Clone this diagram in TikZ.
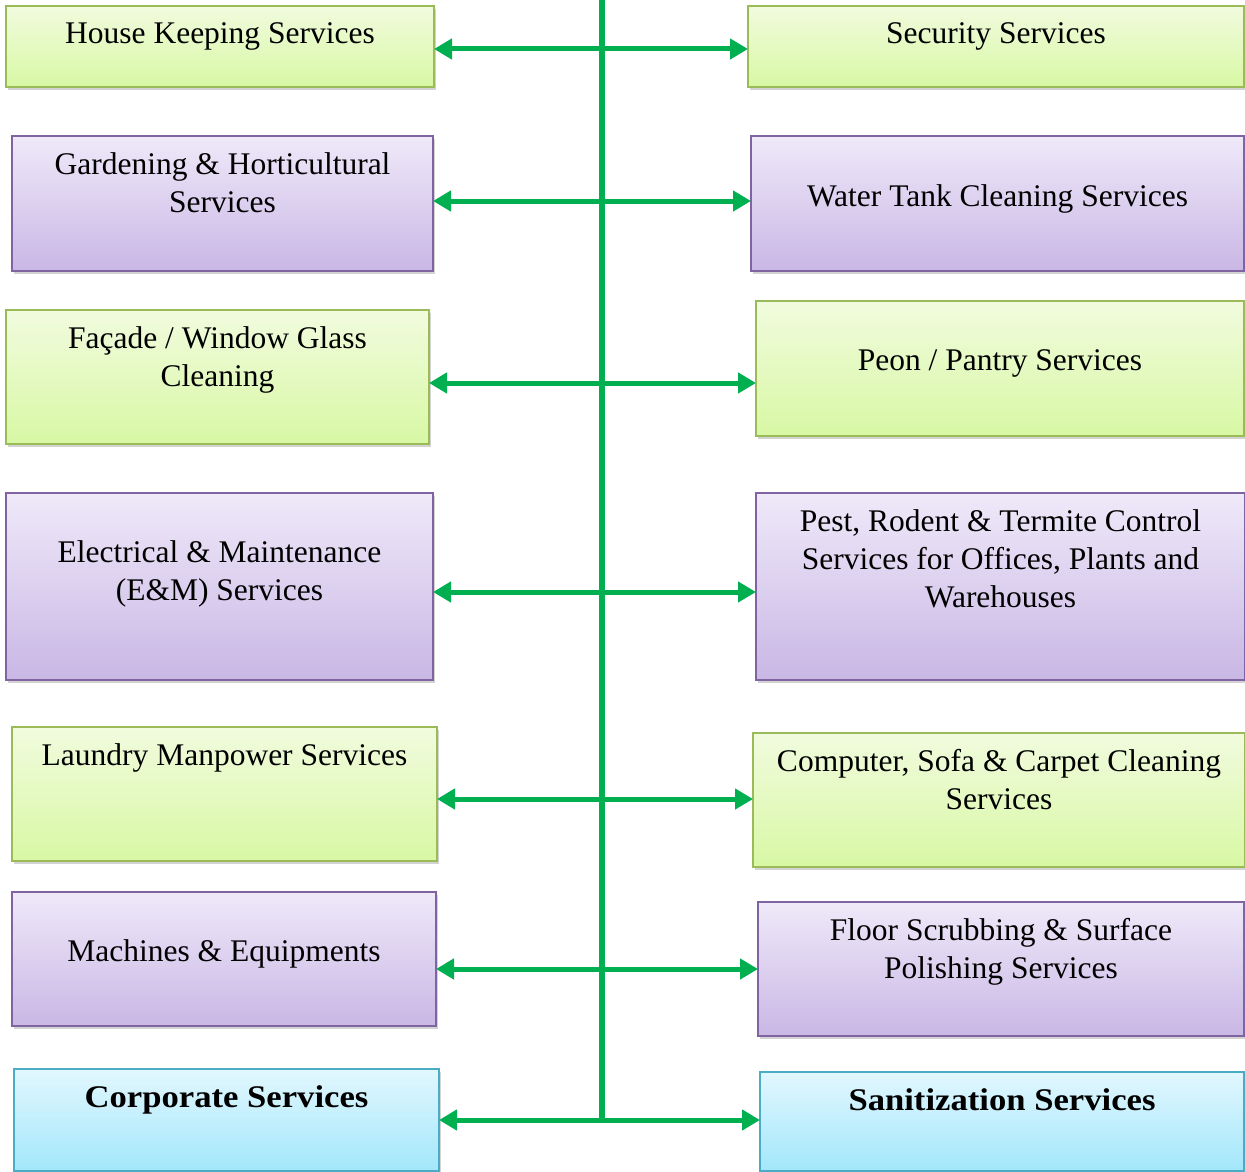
\documentclass[tikz,border=0pt]{standalone}
\usepackage{fontspec}
\setmainfont{Liberation Serif}
\newfontfamily\widebold[FakeStretch=1.1]{Liberation Serif Bold}
\usetikzlibrary{positioning,shadows,arrows.meta}

\definecolor{grnTop}{RGB}{241,251,222}
\definecolor{grnBot}{RGB}{216,248,164}
\definecolor{grnLine}{RGB}{155,187,89}
\definecolor{purTop}{RGB}{239,233,249}
\definecolor{purBot}{RGB}{201,183,229}
\definecolor{purLine}{RGB}{128,100,162}
\definecolor{bluTop}{RGB}{226,247,254}
\definecolor{bluBot}{RGB}{162,231,251}
\definecolor{bluLine}{RGB}{75,172,198}
\definecolor{arrowGreen}{RGB}{0,176,80}

\begin{document}
\begin{tikzpicture}[x=1pt, y=-1pt,
        box/.style = {rectangle, anchor=north west, line width=2pt, inner sep=0pt,
            drop shadow={shadow xshift=2pt, shadow yshift=-3pt, opacity=0.35}},
        grn/.style = {box, draw=grnLine, top color=grnTop, bottom color=grnBot},
        pur/.style = {box, draw=purLine, top color=purTop, bottom color=purBot},
        blu/.style = {box, draw=bluLine, top color=bluTop, bottom color=bluBot},
        txt/.style = {align=center, inner sep=0pt, font=\fontsize{31.5}{38}\selectfont},
        link/.style = {arrowGreen, line width=5pt, shorten <=-1pt, shorten >=-1pt,
            {Triangle[length=18pt,width=20pt]}-{Triangle[length=18pt,width=20pt]}},
        trunk/.style = {arrowGreen, line width=6pt}]

        \useasboundingbox (0,0) rectangle (1245,1172);

        % left column
        \node[grn, minimum width=428pt, minimum height=81pt]  (hk)      at (5,5)     {};
        \node[pur, minimum width=421pt, minimum height=135pt] (gard)    at (11,135)  {};
        \node[grn, minimum width=423pt, minimum height=134pt] (facade)  at (5,309)   {};
        \node[pur, minimum width=427pt, minimum height=187pt] (elec)    at (5,492)   {};
        \node[grn, minimum width=425pt, minimum height=134pt] (laundry) at (11,726)  {};
        \node[pur, minimum width=424pt, minimum height=134pt] (mach)    at (11,891)  {};
        \node[blu, minimum width=425pt, minimum height=102pt] (corp)    at (13,1068) {};

        % right column
        \node[grn, minimum width=496pt, minimum height=81pt]  (sec)     at (747,5)    {};
        \node[pur, minimum width=493pt, minimum height=135pt] (tank)    at (750,135)  {};
        \node[grn, minimum width=488pt, minimum height=135pt] (peon)    at (755,300)  {};
        \node[pur, minimum width=489pt, minimum height=187pt] (pest)    at (755,492)  {};
        \node[grn, minimum width=492pt, minimum height=134pt] (comp)    at (752,732)  {};
        \node[pur, minimum width=486pt, minimum height=134pt] (floor)   at (757,901)  {};
        \node[blu, minimum width=484pt, minimum height=99pt]  (sanit)   at (759,1071) {};

        % texts
        \node[txt, below=17pt of hk.north]      {House Keeping Services};
        \node[txt, below=17pt of gard.north]    {Gardening \& Horticultural\\Services};
        \node[txt, below=17pt of facade.north]  {Façade / Window Glass\\Cleaning};
        \node[txt, below=48pt of elec.north]    {Electrical \& Maintenance\\(E\&M) Services};
        \node[txt, below=17pt of laundry.north] {Laundry Manpower Services};
        \node[txt, below=48pt of mach.north]    {Machines \& Equipments};
        \node[txt, below=17pt of corp.north]    {\widebold Corporate Services};

        \node[txt, below=17pt of sec.north]     {Security Services};
        \node[txt, below=49pt of tank.north]    {Water Tank Cleaning Services};
        \node[txt, below=49pt of peon.north]    {Peon / Pantry Services};
        \node[txt, below=17pt of pest.north]    {Pest, Rodent \& Termite Control\\Services for Offices, Plants and\\Warehouses};
        \node[txt, below=17pt of comp.north]    {Computer, Sofa \& Carpet Cleaning\\Services};
        \node[txt, below=17pt of floor.north]   {Floor Scrubbing \& Surface\\Polishing Services};
        \node[txt, below=17pt of sanit.north]   {\widebold Sanitization Services};

        % trunk and branches
        \coordinate (top) at (602,0);
        \coordinate (j1) at (602,49);
        \coordinate (j2) at (602,201);
        \coordinate (j3) at (602,383);
        \coordinate (j4) at (602,592);
        \coordinate (j5) at (602,799);
        \coordinate (j6) at (602,969);
        \coordinate (j7) at (602,1120);

        \draw[trunk] (top) -- ([yshift=-2.5pt]j7);

        \foreach \l/\r/\j in {hk/sec/j1, gard/tank/j2, facade/peon/j3, elec/pest/j4,
                laundry/comp/j5, mach/floor/j6, corp/sanit/j7}{
            \draw[link] (\l.east |- \j) -- (\r.west |- \j);
        }
\end{tikzpicture}
\end{document}
